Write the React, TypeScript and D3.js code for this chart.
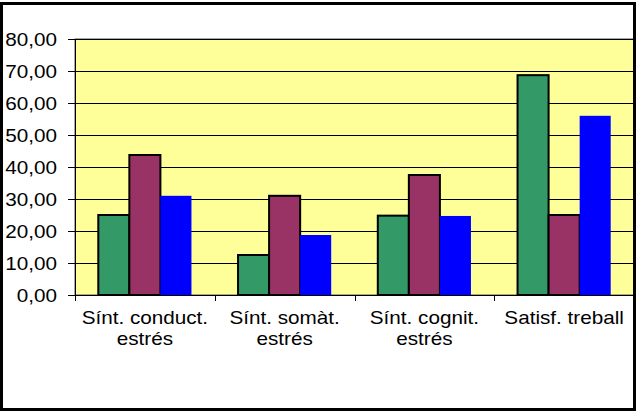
import React, { useEffect, useRef } from 'react';
import * as d3 from 'd3';

const categories = [
    ['Sínt. conduct.', 'estrés'],
    ['Sínt. somàt.', 'estrés'],
    ['Sínt. cognit.', 'estrés'],
    ['Satisf. treball'],
];
const seriesNames = ['s1', 's2', 's3'];
const greenValues = [25.0, 12.5, 24.8, 68.7];
const maroonValues = [43.75, 31.0, 37.5, 25.0];
const blueValues = [31.0, 18.75, 24.7, 56.0];
const seriesColors = ['#339966', '#993366', '#0000FF'];
const yTicks = [0, 10, 20, 30, 40, 50, 60, 70, 80];

const App: React.FC = () => {
    const svgRef = useRef<SVGSVGElement | null>(null);

    useEffect(() => {
        if (!svgRef.current) return;
        const svg = d3.select(svgRef.current);
        svg.selectAll('*').remove();

        const width = 637;
        const height = 412;
        const plot = { left: 75, top: 39, right: 634, bottom: 295 };
        const font = '"Liberation Sans", Arial, sans-serif';
        const stretch = 1.15;

        const x = d3.scaleBand<number>()
            .domain(categories.map((d, i) => i))
            .range([plot.left, plot.right])
            .padding(0);
        const xInner = d3.scaleBand<string>()
            .domain(seriesNames)
            .range([0, x.bandwidth()])
            .paddingInner(0)
            .paddingOuter(0.75);
        const y = d3.scaleLinear().domain([0, 80]).range([plot.bottom, plot.top]);

        svg.append('rect')
            .attr('width', width)
            .attr('height', height)
            .style('fill', 'white');

        // plot area
        svg.append('rect')
            .attr('x', plot.left)
            .attr('y', plot.top)
            .attr('width', plot.right - plot.left)
            .attr('height', plot.bottom - plot.top)
            .style('fill', '#FFFF99')
            .style('stroke', '#555')
            .style('stroke-width', 1);

        // gridlines
        svg.selectAll('line.grid')
            .data(yTicks.filter((t) => t > 0))
            .enter()
            .append('line')
            .attr('class', 'grid')
            .attr('x1', plot.left)
            .attr('x2', plot.right)
            .attr('y1', (d) => Math.round(y(d)) + 0.5)
            .attr('y2', (d) => Math.round(y(d)) + 0.5)
            .style('stroke', '#000')
            .style('stroke-width', 1);

        // bars
        const allValues = [greenValues, maroonValues, blueValues];
        seriesNames.forEach((s, si) => {
            svg.selectAll(`rect.bar${si}`)
                .data(allValues[si])
                .enter()
                .append('rect')
                .attr('class', `bar${si}`)
                .attr('x', (d, i) => (x(i) as number) + (xInner(s) as number))
                .attr('y', (d) => y(d))
                .attr('width', xInner.bandwidth())
                .attr('height', (d) => y(0) - y(d))
                .style('fill', seriesColors[si])
                .style('stroke', si < 2 ? '#000' : 'none')
                .style('stroke-width', 2);
        });

        // y axis
        svg.append('line')
            .attr('x1', plot.left + 0.5)
            .attr('x2', plot.left + 0.5)
            .attr('y1', plot.top)
            .attr('y2', plot.bottom)
            .style('stroke', '#000');
        svg.selectAll('line.ytick')
            .data(yTicks)
            .enter()
            .append('line')
            .attr('class', 'ytick')
            .attr('x1', plot.left - 7)
            .attr('x2', plot.left)
            .attr('y1', (d) => Math.round(y(d)) + 0.5)
            .attr('y2', (d) => Math.round(y(d)) + 0.5)
            .style('stroke', '#000');
        svg.selectAll('text.ylabel')
            .data(yTicks)
            .enter()
            .append('text')
            .attr('class', 'ylabel')
            .attr('transform', (d) => `translate(${plot.left - 18},${y(d) + 6.5}) scale(${stretch},1)`)
            .attr('text-anchor', 'end')
            .style('font-family', font)
            .style('font-size', '18px')
            .style('fill', '#000')
            .text((d) => d3.format('.2f')(d).replace('.', ','));

        // x axis
        svg.append('line')
            .attr('x1', plot.left)
            .attr('x2', plot.right)
            .attr('y1', plot.bottom + 0.5)
            .attr('y2', plot.bottom + 0.5)
            .style('stroke', '#000');
        svg.selectAll('line.xtick')
            .data(categories.map((d, i) => i).concat([categories.length]))
            .enter()
            .append('line')
            .attr('class', 'xtick')
            .attr('x1', (i) => Math.round(plot.left + i * x.step()) + 0.5)
            .attr('x2', (i) => Math.round(plot.left + i * x.step()) + 0.5)
            .attr('y1', plot.bottom)
            .attr('y2', plot.bottom + 6)
            .style('stroke', '#000');
        categories.forEach((lines, i) => {
            lines.forEach((line, li) => {
                svg.append('text')
                    .attr('transform', `translate(${(x(i) as number) + x.bandwidth() / 2},${324 + li * 20.5}) scale(${stretch},1)`)
                    .attr('text-anchor', 'middle')
                    .style('font-family', font)
                    .style('font-size', '18px')
                    .style('fill', '#000')
                    .text(line);
            });
        });

        // outer border
        svg.append('rect')
            .attr('x', 1.5)
            .attr('y', 3.5)
            .attr('width', 633)
            .attr('height', 406)
            .style('fill', 'none')
            .style('stroke', '#000')
            .style('stroke-width', 3);
    }, []);

    return (
        <svg ref={svgRef} width={637} height={412}
            style={{ position: 'absolute', left: 0, top: 0, display: 'block' }}>
        </svg>
    );
};

export default App;
